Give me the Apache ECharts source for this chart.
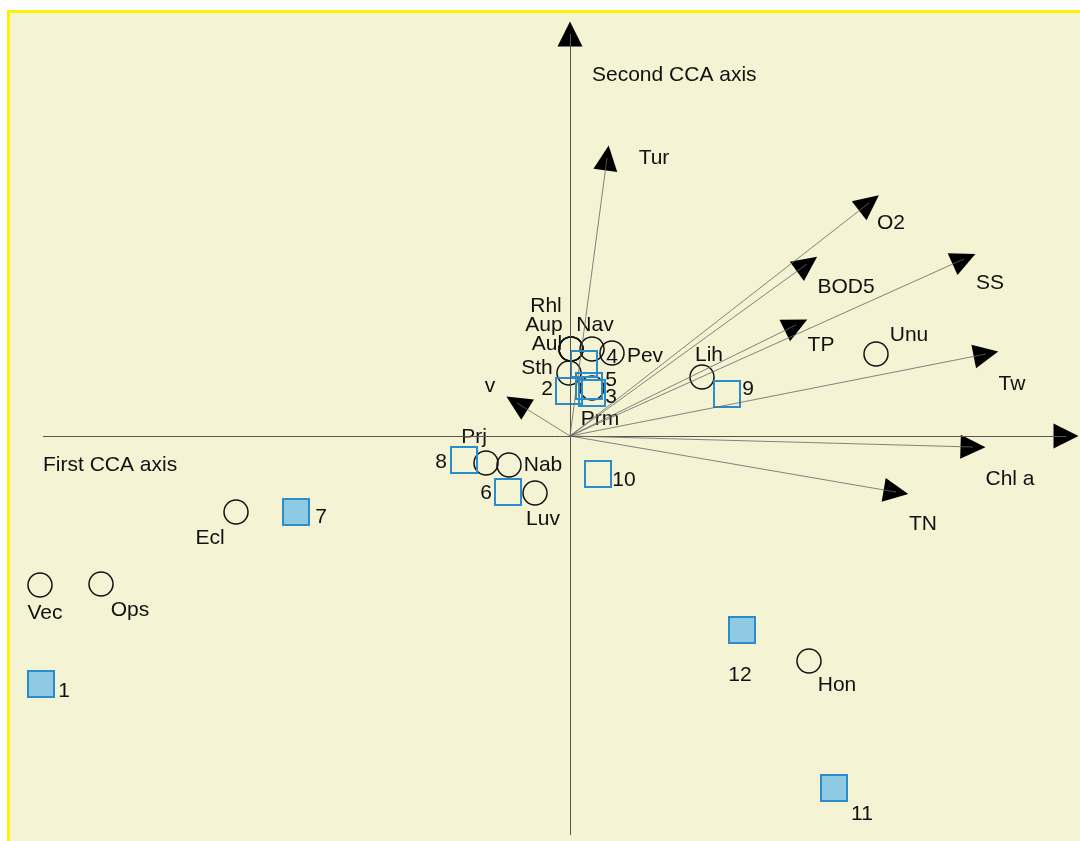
<!DOCTYPE html>
<html>
<head>
<meta charset="utf-8">
<script src="https://cdn.jsdelivr.net/npm/echarts@6/dist/echarts.min.js"></script>
<style>
html,body{margin:0;padding:0;background:#fff;}
#chart{width:1080px;height:841px;}
</style>
</head>
<body>
<div id="chart"></div>
<script>
// ---- DATA (CCA scores) ----
const speciesNames = ['Rhl','Aup','Aul','Nav','Pev','Sth','Prm','Lih','Unu','Prj','Nab','Luv','Ecl','Vec','Ops','Hon'];
const speciesX = [0.005, 0.005, 0.005, 0.11, 0.21, -0.005, 0.11, 0.66, 1.53, -0.42, -0.305, -0.175, -1.67, -2.65, -2.345, 1.195];
const speciesY = [0.435, 0.435, 0.435, 0.435, 0.415, 0.315, 0.24, 0.295, 0.41, -0.135, -0.145, -0.285, -0.38, -0.745, -0.74, -1.125];

const siteNames = ['1','2','3','4','5','6','7','8','9','10','11','12'];
const siteX = [-2.645, -0.005, 0.11, 0.07, 0.095, -0.31, -1.37, -0.53, 0.785, 0.14, 1.32, 0.86];
const siteY = [-1.24, 0.225, 0.215, 0.36, 0.25, -0.28, -0.38, -0.12, 0.21, -0.19, -1.76, -0.97];
const filledSites = ['1','7','11','12'];

const envNames = ['Tur','O2','BOD5','SS','TP','Tw','Chl a','TN','v'];
const envX = [0.185, 1.495, 1.185, 1.97, 1.13, 2.08, 2.015, 1.63, -0.265];
const envY = [1.39, 1.165, 0.86, 0.885, 0.555, 0.41, -0.055, -0.28, 0.165];

const axisXRange = [-2.635, 2.48];
const axisYRange = [-1.995, 2.01];
const axisTitles = ['First CCA axis', 'Second CCA axis'];

// ---- layout / style (label offsets in pixels) ----
const labelOffset = {
  Rhl:[-25,-43], Aup:[-27,-24], Aul:[-24,-5], Nav:[3,-24], Pev:[33,3], Sth:[-32,-5], Prm:[8,31],
  Lih:[7,-22], Unu:[33,-19], Prj:[-12,-26], Nab:[34,0], Luv:[8,26], Ecl:[-26,26], Vec:[5,28],
  Ops:[29,26], Hon:[28,24],
  's1':[23,7], 's2':[-22,-2], 's3':[19,4], 's4':[28,-7], 's5':[22,-6], 's6':[-22,1], 's7':[25,5],
  's8':[-23,2], 's9':[21,-5], 's10':[26,6], 's11':[28,26], 's12':[-2,45],
  'eTur':[47,0], 'eO2':[22,20], 'eBOD5':[39,23], 'eSS':[26,24], 'eTP':[25,20], 'eTw':[26,30],
  'eChl a':[37,32], 'eTN':[27,32], 'ev':[-27,-17]
};
const FONT = 'Liberation Sans, Arial, Helvetica, sans-serif';
const FS = 21;
const TXT = '#111111';

function lab(key){
  return {show:true, position:'inside', offset:labelOffset[key], formatter:'{b}', color:TXT, fontSize:FS,
          fontFamily:FONT, align:'center', verticalAlign:'middle', opacity:1};
}

const chart = echarts.init(document.getElementById('chart'), null, {renderer:'canvas'});

const speciesData = speciesNames.map((n,i)=>({name:n, value:[speciesX[i], speciesY[i]], label:lab(n)}));
const siteData = siteNames.map((n,i)=>({
  name:n, value:[siteX[i], siteY[i]], label:lab('s'+n),
  itemStyle:{color: filledSites.includes(n) ? '#8ecae2' : 'rgba(0,0,0,0)', borderColor:'#2b8ccc', borderWidth:2, opacity:1}
}));
const envData = envNames.map((n,i)=>({name:n, value:[envX[i], envY[i]], label:lab('e'+n)}));
const axisArrowData = [{name:'', value:[axisXRange[1],0]}, {name:'', value:[0,axisYRange[1]]}];

function rot(v){ return Math.atan2(v[1], v[0]) * 180 / Math.PI - 90; }

const option = {
  backgroundColor:'#ffffff',
  animation:false,
  grid:{left:9, top:12, right:0, bottom:0, show:true, backgroundColor:'#f4f3d4', borderWidth:0},
  xAxis:{type:'value', min:-2.805, max:2.55, show:false},
  yAxis:{type:'value', min:-2.025, max:2.12, show:false},
  graphic:[
    {type:'line', shape:{x1:7, y1:11.5, x2:1080, y2:11.5}, style:{stroke:'#fff200', lineWidth:3}},
    {type:'line', shape:{x1:8.5, y1:10, x2:8.5, y2:841}, style:{stroke:'#fff200', lineWidth:3}},
    {type:'text', left:43, top:455, style:{text:axisTitles[0], font:FS+'px '+FONT, fill:TXT}},
    {type:'text', left:592, top:65, style:{text:axisTitles[1], font:FS+'px '+FONT, fill:TXT}}
  ],
  series:[
    { // main axes lines + arrowheads
      type:'scatter', silent:true, data:axisArrowData, symbol:'triangle', symbolSize:[25,25],
      symbolRotate:(v)=>rot(v), itemStyle:{color:'#000', opacity:1}, label:{show:false},
      markLine:{silent:true, symbol:['none','none'], label:{show:false},
        lineStyle:{color:'#555555', width:1, type:'solid', opacity:1},
        emphasis:{disabled:true},
        data:[
          [{coord:[axisXRange[0],0]},{coord:[axisXRange[1],0]}],
          [{coord:[0,axisYRange[0]]},{coord:[0,axisYRange[1]]}]
        ]}
    },
    { // environmental vectors
      type:'scatter', silent:true, data:envData, symbol:'triangle', symbolSize:[24,25],
      symbolRotate:(v)=>rot(v), itemStyle:{color:'#000', opacity:1},
      markLine:{silent:true, symbol:['none','none'], label:{show:false},
        lineStyle:{color:'#666666', width:0.8, type:'solid', opacity:1},
        emphasis:{disabled:true},
        data: envNames.map((n,i)=>[{coord:[0,0]},{coord:[envX[i],envY[i]]}])}
    },
    { // species
      type:'scatter', silent:true, data:speciesData, symbol:'circle', symbolSize:24,
      itemStyle:{color:'rgba(0,0,0,0)', borderColor:'#111', borderWidth:1.5, opacity:1}
    },
    { // sites
      type:'scatter', silent:true, data:siteData, symbol:'rect', symbolSize:26
    }
  ]
};
chart.setOption(option);
</script>
</body>
</html>
